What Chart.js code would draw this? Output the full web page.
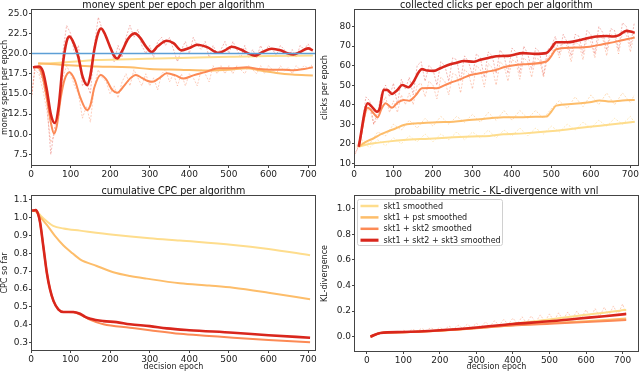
<!DOCTYPE html>
<html>
<head>
<meta charset="utf-8">
<script src="https://cdn.jsdelivr.net/npm/chart.js@4.4.0/dist/chart.umd.min.js"></script>
<style>
  body { margin: 0; background: #fff; }
  #wrap { position: relative; width: 640px; height: 372px; }
  canvas { position: absolute; }
</style>
</head>
<body>
<div id="wrap">
  <canvas id="c_money" width="320" height="186" style="left:0;top:0"></canvas>
  <canvas id="c_clicks" width="320" height="186" style="left:320px;top:0"></canvas>
  <canvas id="c_cpc" width="320" height="186" style="left:0;top:186px"></canvas>
  <canvas id="c_kl" width="320" height="186" style="left:320px;top:186px"></canvas>
</div>
<script>
// --- series names / colours ---
var names = ['skt1 smoothed', 'skt1 + pst smoothed', 'skt1 + skt2 smoothed', 'skt1 + skt2 + skt3 smoothed'];
var colors = ['#fedd8d', '#fdbd6a', '#fc8a55', '#d9261c'];
var raw_colors = ['rgba(254,210,120,0.55)', 'rgba(253,180,100,0.5)', 'rgba(250,130,90,0.45)', 'rgba(220,50,40,0.4)'];
var widths = [2, 2, 2, 2.6];

// --- money spent per epoch ---
var money_budget = 20;
var money_yel_x = [18, 82, 166, 250, 376, 500, 600, 712];
var money_yel_y = [18.7, 18.9, 19.2, 19.3, 19.45, 19.6, 19.7, 19.75];
var money_pst_x = [18, 50, 82, 120, 166, 250, 300, 376, 450, 500, 545, 580, 620, 660, 712];
var money_pst_y = [18.8, 18.7, 18.6, 18.5, 18.4, 18.3, 18.1, 18.0, 17.9, 18.0, 18.2, 17.9, 17.6, 17.4, 17.3];
var money_org_x = [8, 20, 30, 40, 50, 58, 65, 75, 85, 97, 110, 125, 142, 150, 160, 176, 190, 205, 218, 235, 250, 265, 280, 295, 307, 325, 343, 365, 385, 410, 440, 475, 510, 545, 575, 606, 640, 663, 690, 712];
var money_org_y = [18.3, 18.2, 17.0, 14.5, 11.5, 10.1, 11.0, 14.5, 16.8, 17.7, 16.8, 14.5, 13.0, 13.6, 15.8, 17.35, 16.8, 15.5, 15.15, 16.0, 16.9, 17.35, 17.0, 16.6, 16.5, 17.0, 17.55, 17.3, 16.9, 17.3, 17.7, 18.2, 18.2, 18.3, 18.1, 18.0, 18.0, 17.95, 18.1, 18.3];
var money_red_x = [5, 20, 30, 40, 50, 60, 70, 80, 90, 97, 105, 120, 130, 142, 150, 160, 170, 177, 185, 200, 210, 218, 230, 245, 262, 275, 290, 305, 320, 343, 360, 380, 400, 420, 445, 473, 490, 507, 530, 550, 566, 585, 608, 630, 650, 663, 680, 700, 712];
var money_red_y = [18.3, 18.4, 17.8, 15.5, 12.5, 11.4, 13.5, 18.5, 21.5, 22.1, 21.6, 19.5, 17.2, 16.1, 17.3, 20.5, 22.6, 23.1, 22.6, 20.8, 19.7, 19.4, 20.3, 21.8, 22.5, 22.0, 20.9, 20.2, 20.9, 21.6, 21.3, 20.4, 20.7, 21.1, 20.8, 20.1, 20.4, 20.85, 20.5, 20.0, 19.75, 20.2, 20.6, 20.4, 20.0, 19.9, 20.2, 20.65, 20.4];

// raw (unsmoothed) traces, read every 10 epochs
var raw_x = [0, 10, 20, 30, 40, 50, 60, 70, 80, 90, 100, 110, 120, 130, 140, 150, 160, 170, 180, 190, 200, 210, 220, 230, 240, 250, 260, 270, 280, 290, 300, 310, 320, 330, 340, 350, 360, 370, 380, 390, 400, 410, 420, 430, 440, 450, 460, 470, 480, 490, 500, 510, 520, 530, 540, 550, 560, 570, 580, 590, 600, 610, 620, 630, 640, 650, 660, 670, 680, 690, 700, 710];
var money_red_raw = [14, 18.5, 18, 16.5, 14, 7.5, 11, 12, 20, 23.5, 22.5, 20, 21, 16, 16.5, 15, 21, 24.5, 23, 22, 21, 19, 21, 19.5, 22, 23.5, 22, 23, 21, 20, 21, 19.5, 21.5, 22, 21, 22, 20.5, 19, 20.5, 21.5, 20, 22, 21, 20.5, 21.5, 19.5, 21, 20, 20.5, 21.5, 20, 21.5, 20.5, 19.5, 21, 19.5, 20.5, 19.5, 21, 20, 21, 20.5, 19.8, 21, 20.5, 19.5, 20.5, 19.5, 21, 20.5, 21.2, 20.3];
var money_org_raw = [14, 18, 17.5, 15.5, 13, 9, 10, 12.5, 17, 18.5, 17.5, 16, 15, 12, 13.5, 11.5, 16, 18, 17, 16.5, 15, 16, 14.5, 16.5, 17.5, 16, 18, 17, 16, 17.5, 16, 17, 15.5, 17.5, 18, 16.5, 17.5, 16, 17.5, 16, 17.5, 17, 16, 18, 17.5, 16.5, 18.5, 17.5, 18.5, 17.5, 18.5, 17.5, 18.5, 18, 17.5, 18.5, 18, 17.5, 18.5, 17.5, 18.5, 18, 17.5, 18.5, 17.8, 18.3, 17.5, 18.5, 18, 18.5, 18.2, 18.6];

// --- clicks per epoch ---
var clicks_yel_x = [12, 30, 50, 90, 126, 190, 252, 300, 343, 379, 430, 487, 540, 597, 650, 711];
var clicks_yel_y = [18.5, 19.5, 20.2, 21.2, 21.9, 22.6, 23.3, 23.7, 24.0, 24.8, 25.3, 26.2, 27.3, 28.7, 29.8, 31.3];
var clicks_pst_x = [12, 30, 50, 70, 84, 105, 126, 150, 168, 210, 252, 300, 344, 379, 420, 460, 487, 500, 512, 550, 597, 622, 650, 680, 711];
var clicks_pst_y = [18.5, 21, 22.8, 25, 26.2, 27.8, 29.6, 30.3, 30.5, 31, 31.3, 32.3, 33.0, 33.6, 33.6, 33.8, 33.9, 36.5, 39.5, 40.3, 41.2, 42.2, 41.6, 42.2, 42.4];
var clicks_org_x = [12, 35, 50, 60, 70, 80, 96, 110, 126, 140, 155, 172, 190, 210, 230, 252, 275, 295, 315, 337, 360, 379, 428, 487, 500, 512, 550, 597, 630, 664, 690, 711];
var clicks_org_y = [18.5, 38.4, 35.5, 33.5, 38, 40.7, 38.4, 41, 42.4, 42, 44.5, 48.4, 48.6, 48.4, 50, 51.8, 53.5, 55.2, 56, 56.9, 57.8, 59.2, 60.7, 62.1, 65, 68.4, 69.2, 69.7, 71, 72.3, 73.5, 74.4];
var clicks_red_x = [12, 35, 45, 58, 65, 75, 85, 96, 110, 122, 138, 150, 165, 172, 185, 202, 220, 244, 260, 278, 303, 320, 337, 360, 390, 428, 460, 487, 500, 512, 540, 555, 580, 614, 640, 656, 670, 690, 700, 711];
var clicks_red_y = [18.5, 40.7, 39, 36.4, 38, 47.6, 47.5, 45.5, 47.5, 50.1, 48.9, 51.5, 57, 58.2, 57.5, 57.3, 58.8, 60.7, 61.5, 62.4, 62, 63, 63.8, 64.8, 65, 66.4, 66, 66.4, 69, 72, 72, 72.3, 73.5, 74.9, 75.2, 74.9, 75.5, 77.8, 77.5, 76.8];

var clicks_red_raw = [14, 18, 28, 44, 42, 30, 36, 46, 50, 44, 51, 40, 53, 48, 54, 45, 60, 62, 52, 60, 58, 50, 62, 60, 52, 64, 63, 52, 65, 62, 55, 66, 64, 54, 67, 65, 56, 68, 65, 56, 69, 67, 56, 70, 66, 58, 69, 67, 55, 68, 70, 75, 66, 76, 72, 65, 76, 75, 66, 78, 76, 66, 80, 77, 68, 79, 78, 68, 82, 80, 70, 82];
var clicks_org_raw = [13, 18, 26, 36, 38, 30, 33, 40, 44, 36, 42, 36, 45, 40, 46, 40, 50, 51, 44, 52, 50, 43, 54, 52, 45, 56, 55, 46, 58, 56, 48, 60, 58, 49, 61, 59, 50, 62, 60, 52, 63, 62, 53, 64, 62, 54, 64, 63, 54, 64, 66, 71, 64, 72, 70, 62, 72, 71, 63, 74, 72, 64, 75, 74, 65, 76, 75, 66, 77, 76, 67, 77];
var raw20_x = [0, 20, 40, 60, 80, 100, 120, 140, 160, 180, 200, 220, 240, 260, 280, 300, 320, 340, 360, 380, 400, 420, 440, 460, 480, 500, 520, 540, 560, 580, 600, 620, 640, 660, 680, 700, 710];
var clicks_pst_raw = [18, 22, 20, 26, 24, 30, 27, 32, 28, 33, 29, 34, 30, 34, 31, 35, 31, 36, 32, 37, 32, 37, 33, 37, 33, 38, 42, 38, 44, 39, 45, 40, 46, 40, 46, 41, 45];
var clicks_yel_raw = [17, 21, 18, 22, 19, 23, 20, 24, 21, 25, 21, 25, 22, 26, 22, 26, 23, 27, 23, 27, 24, 28, 24, 28, 25, 29, 26, 30, 27, 31, 28, 32, 29, 33, 30, 34, 31];

// --- cumulative CPC ---
var cpc_yel_x = [3, 15, 25, 40, 56, 82, 124, 208, 300, 376, 511, 600, 705];
var cpc_yel_y = [1.04, 1.035, 1.01, 0.98, 0.955, 0.94, 0.928, 0.905, 0.885, 0.872, 0.848, 0.825, 0.79];
var cpc_pst_x = [3, 12, 25, 40, 60, 82, 100, 124, 166, 208, 250, 292, 376, 450, 511, 600, 705];
var cpc_pst_y = [1.04, 1.035, 1.0, 0.96, 0.9, 0.845, 0.81, 0.767, 0.73, 0.695, 0.674, 0.659, 0.633, 0.62, 0.608, 0.58, 0.543];
var cpc_org_x = [3, 12, 18, 23, 31, 40, 48, 57, 69, 82, 95, 107, 124, 150, 183, 250, 300, 376, 450, 511, 600, 705];
var cpc_org_y = [1.04, 1.043, 1.02, 0.973, 0.842, 0.692, 0.599, 0.533, 0.487, 0.472, 0.472, 0.47, 0.458, 0.428, 0.403, 0.384, 0.37, 0.35, 0.338, 0.328, 0.315, 0.302];
var cpc_red_x = [3, 12, 18, 23, 31, 40, 48, 57, 69, 82, 95, 107, 124, 137, 150, 183, 216, 250, 300, 343, 400, 511, 600, 705];
var cpc_red_y = [1.04, 1.043, 1.02, 0.973, 0.842, 0.692, 0.599, 0.533, 0.487, 0.472, 0.472, 0.472, 0.462, 0.445, 0.434, 0.421, 0.415, 0.403, 0.393, 0.38, 0.37, 0.356, 0.342, 0.328];

// --- KL divergence ---
var kl_yel_x = [10, 37, 100, 200, 300, 400, 500, 574, 693, 710];
var kl_yel_y = [0.0, 0.029, 0.034, 0.046, 0.068, 0.1, 0.135, 0.162, 0.203, 0.21];
var kl_pst_x = [10, 37, 100, 200, 300, 400, 500, 600, 710];
var kl_pst_y = [0.0, 0.029, 0.035, 0.048, 0.068, 0.09, 0.105, 0.12, 0.142];
var kl_org_x = [10, 37, 100, 200, 300, 400, 500, 600, 710];
var kl_org_y = [0.0, 0.029, 0.035, 0.047, 0.066, 0.088, 0.1, 0.115, 0.13];
var kl_red_x = [10, 37, 100, 200, 300, 400, 500, 574, 650, 700, 710];
var kl_red_y = [0.0, 0.029, 0.036, 0.05, 0.072, 0.099, 0.12, 0.14, 0.16, 0.174, 0.177];
// raw red KL: spikes every ~25 epochs
var kl_raw_x = [100, 112, 125, 137, 150, 162, 175, 187, 200, 212, 225, 237, 250, 262, 275, 287, 300, 312, 325, 337, 350, 362, 375, 387, 400, 412, 425, 437, 450, 462, 475, 487, 500, 512, 525, 537, 550, 562, 575, 587, 600, 612, 625, 637, 650, 662, 675, 687, 700, 710];
var kl_red_raw = [0.05, 0.038, 0.057, 0.043, 0.064, 0.047, 0.07, 0.05, 0.072, 0.053, 0.083, 0.06, 0.09, 0.065, 0.097, 0.07, 0.105, 0.075, 0.115, 0.082, 0.125, 0.089, 0.135, 0.095, 0.145, 0.101, 0.155, 0.107, 0.162, 0.112, 0.17, 0.117, 0.178, 0.123, 0.186, 0.131, 0.193, 0.137, 0.2, 0.144, 0.21, 0.151, 0.22, 0.157, 0.23, 0.164, 0.24, 0.171, 0.255, 0.177];

var FONT = '"DejaVu Sans", sans-serif';

function pts(xs, ys) {
  var out = [];
  for (var i = 0; i < xs.length; i++) {
    out.push({x: xs[i], y: ys[i]});
  }
  return out;
}

function series(list) {
  // list: [[xs, ys], ...] in yellow, pst, orange, red order
  var ds = [];
  list.forEach(function(xy, i) {
    ds.push({
      label: names[i],
      data: pts(xy[0], xy[1]),
      borderColor: colors[i],
      borderWidth: widths[i],
      pointRadius: 0,
      cubicInterpolationMode: 'monotone',
      order: 10 - i,
    });
  });
  return ds;
}

function raw_series(ci, xs, ys) {
  return {
    label: 'raw ' + names[ci],
    data: pts(xs, ys),
    borderColor: raw_colors[ci],
    borderWidth: 0.9,
    borderDash: [2, 1.5],
    pointRadius: 0,
    order: 20 - ci,
  };
}

// draws spines, title and (optionally) the legend box
var deco = {
  id: 'deco',
  afterDraw: function(chart) {
    var o = chart.options.plugins.deco;
    var a = chart.chartArea;
    var ctx = chart.ctx;
    ctx.save();
    ctx.strokeStyle = '#444';
    ctx.lineWidth = 1;
    ctx.strokeRect(Math.round(a.left) + 0.5, Math.round(a.top) - 0.5, Math.round(a.right - a.left) - 1, Math.round(a.bottom - a.top) + 1);
    ctx.fillStyle = '#111';
    ctx.font = '9.6px ' + FONT;
    ctx.textAlign = 'center';
    ctx.textBaseline = 'middle';
    ctx.fillText(o.title, (a.left + a.right) / 2, 5);
    if (o.legend) {
      var bx = a.left + 3.5, by = a.top + 3.5;
      ctx.fillStyle = 'rgba(255,255,255,0.85)';
      ctx.strokeStyle = '#d0d0d0';
      ctx.beginPath();
      ctx.roundRect(bx, by, 145, 46, 2);
      ctx.fill();
      ctx.stroke();
      ctx.font = '8px ' + FONT;
      ctx.textAlign = 'left';
      for (var i = 0; i < names.length; i++) {
        var yy = by + 6.5 + i * 11.4;
        ctx.strokeStyle = colors[i];
        ctx.lineWidth = widths[i] + 0.5;
        ctx.beginPath();
        ctx.moveTo(bx + 3, yy);
        ctx.lineTo(bx + 21, yy);
        ctx.stroke();
        ctx.fillStyle = '#222';
        ctx.fillText(names[i], bx + 26, yy + 0.5);
      }
    }
    ctx.restore();
  }
};

function make_chart(id, cfg) {
  var el = document.getElementById(id);
  var w = el.width, h = el.height;
  var area = cfg.area;
  var tickFont = {family: FONT, size: 9};
  var labelFont = {family: FONT, size: 8};
  return new Chart(el, {
    type: 'line',
    data: {datasets: cfg.datasets},
    options: {
      responsive: false,
      animation: false,
      devicePixelRatio: 1,
      layout: {padding: {top: area.top, right: w - area.right, left: 0, bottom: 0}},
      plugins: {
        legend: {display: false},
        title: {display: false},
        tooltip: {enabled: false},
        deco: {title: cfg.title, legend: cfg.legend || false},
      },
      scales: {
        x: {
          type: 'linear',
          min: cfg.xmin, max: cfg.xmax,
          grid: {display: true, drawOnChartArea: false, drawTicks: true, tickLength: 3, color: '#444'},
          border: {display: false},
          ticks: {stepSize: 100, includeBounds: false, font: tickFont, color: '#222', padding: 1, maxRotation: 0,
            callback: function(v) { return v; }},
          title: {display: !!cfg.xlabel, text: cfg.xlabel || '', font: labelFont, color: '#222', padding: {top: 0, bottom: 0}},
          afterFit: function(s) { s.height = h - area.bottom; },
        },
        y: {
          min: cfg.ymin, max: cfg.ymax,
          grid: {display: true, drawOnChartArea: false, drawTicks: true, tickLength: 2, color: '#444'},
          border: {display: false},
          ticks: {stepSize: cfg.ystep, includeBounds: false, font: tickFont, color: '#222', padding: 1,
            callback: function(v) { return cfg.yfmt(v); }},
          title: {display: true, text: cfg.ylabel, font: labelFont, color: '#222', padding: {top: 0, bottom: 0}},
          afterFit: function(s) { s.width = area.left; },
        },
      },
    },
    plugins: [deco],
  });
}

var fmt1 = function(v) { return (Math.round(v * 10) / 10).toFixed(1); };
var fmt0 = function(v) { return Math.round(v); };

var money_ds = series([[money_yel_x, money_yel_y], [money_pst_x, money_pst_y], [money_org_x, money_org_y], [money_red_x, money_red_y]]);
money_ds.push(raw_series(2, raw_x, money_org_raw));
money_ds.push(raw_series(3, raw_x, money_red_raw));
money_ds.push({
  label: 'budget',
  data: pts([0, 720], [money_budget, money_budget]),
  borderColor: '#5d9fd6',
  borderWidth: 1.5,
  pointRadius: 0,
  order: 0,
});

var clicks_ds = series([[clicks_yel_x, clicks_yel_y], [clicks_pst_x, clicks_pst_y], [clicks_org_x, clicks_org_y], [clicks_red_x, clicks_red_y]]);
clicks_ds.push(raw_series(0, raw20_x, clicks_yel_raw));
clicks_ds.push(raw_series(1, raw20_x, clicks_pst_raw));
clicks_ds.push(raw_series(2, raw_x, clicks_org_raw));
clicks_ds.push(raw_series(3, raw_x, clicks_red_raw));

var kl_ds = series([[kl_yel_x, kl_yel_y], [kl_pst_x, kl_pst_y], [kl_org_x, kl_org_y], [kl_red_x, kl_red_y]]);
kl_ds.push(raw_series(2, kl_raw_x, kl_red_raw));

make_chart('c_money', {
  title: 'money spent per epoch per algorithm',
  ylabel: 'money spent per epoch',
  area: {left: 31, top: 10, right: 316, bottom: 165},
  xmin: 0, xmax: 720,
  ymin: 6.2, ymax: 25.4, ystep: 2.5, yfmt: fmt1,
  datasets: money_ds,
});

make_chart('c_clicks', {
  title: 'collected clicks per epoch per algorithm',
  ylabel: 'clicks per epoch',
  area: {left: 34, top: 10, right: 319, bottom: 165},
  xmin: 0, xmax: 721,
  ymin: 9.1, ymax: 88.5, ystep: 10, yfmt: fmt0,
  datasets: clicks_ds,
});

make_chart('c_cpc', {
  title: 'cumulative CPC per algorithm',
  ylabel: 'CPC so far',
  xlabel: 'decision epoch',
  area: {left: 31, top: 10, right: 316, bottom: 164},
  xmin: 0, xmax: 720,
  ymin: 0.259, ymax: 1.122, ystep: 0.1, yfmt: fmt1,
  datasets: series([[cpc_yel_x, cpc_yel_y], [cpc_pst_x, cpc_pst_y], [cpc_org_x, cpc_org_y], [cpc_red_x, cpc_red_y]]),
});

make_chart('c_kl', {
  title: 'probability metric - KL-divergence with vnl',
  ylabel: 'KL-divergence',
  xlabel: 'decision epoch',
  legend: true,
  area: {left: 34, top: 10, right: 319, bottom: 165},
  xmin: -35, xmax: 745,
  ymin: -0.112, ymax: 1.099, ystep: 0.2, yfmt: fmt1,
  datasets: kl_ds,
});
</script>
</body>
</html>
